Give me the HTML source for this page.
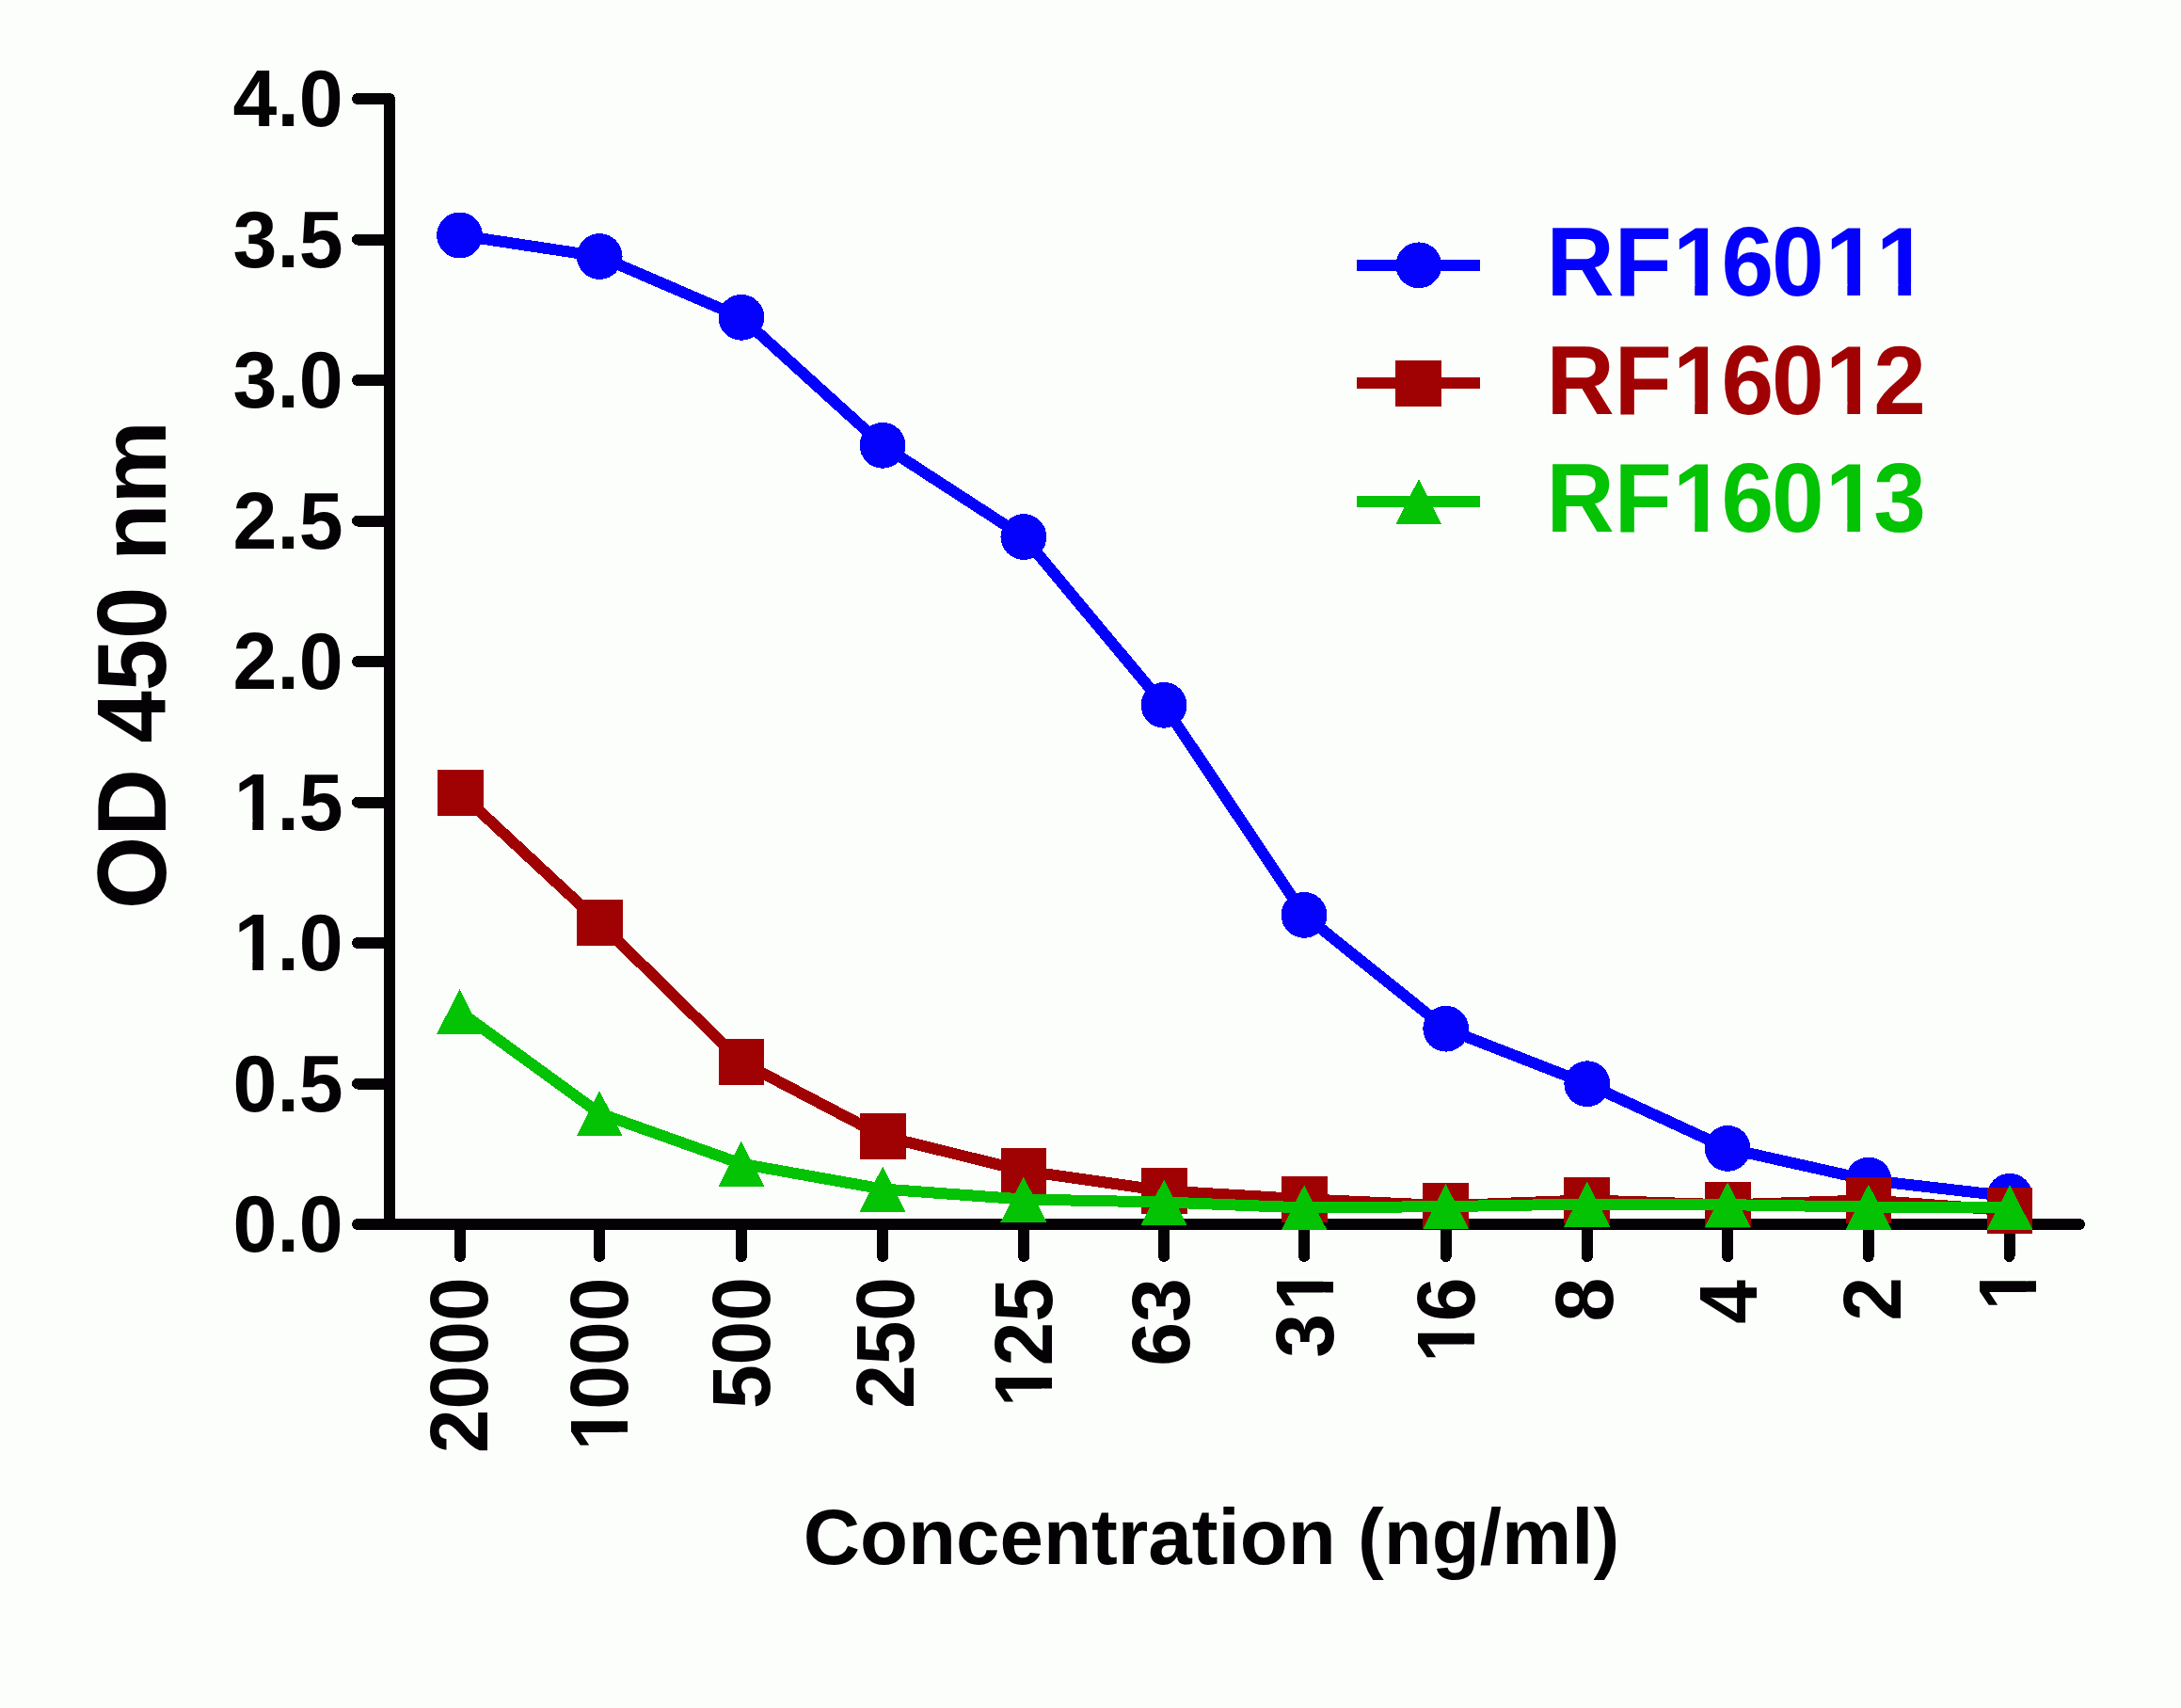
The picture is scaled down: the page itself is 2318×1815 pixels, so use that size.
<!DOCTYPE html>
<html lang="en"><head><meta charset="utf-8"><title>OD 450 nm vs Concentration (ng/ml)</title>
<style>
html,body{margin:0;padding:0;background:#fcfefc;}
body{width:2318px;height:1815px;overflow:hidden;}
svg{display:block;}
text{font-family:"Liberation Sans",Arial,Helvetica,sans-serif;font-weight:bold;}
.tick text{font-size:84.3px;fill:#040204;}
.xl text{font-size:84px;fill:#040204;}
.xt{font-size:83.5px;fill:#040204;}
.yt{font-size:99.3px;fill:#040204;}
.lg{font-size:100px;}
</style></head><body>
<svg width="2318" height="1815" viewBox="0 0 2318 1815">
<defs>
<clipPath id="c1" clipPathUnits="userSpaceOnUse"><rect x="-4000" y="-4000" width="8000" height="3989.90"/><rect x="-4000" y="3.00" width="8000" height="4000"/><rect x="-4000.00" y="-10.60" width="3888.13" height="14.10"/><rect x="-96.31" y="-10.60" width="11.57" height="14.10"/><rect x="-70.30" y="-10.60" width="4070.30" height="14.10"/></clipPath>
<clipPath id="c2" clipPathUnits="userSpaceOnUse"><rect x="-4000" y="-4000" width="8000" height="3989.90"/><rect x="-4000" y="3.00" width="8000" height="4000"/><rect x="-4000.00" y="-10.60" width="3888.13" height="14.10"/><rect x="-96.31" y="-10.60" width="11.57" height="14.10"/><rect x="-70.30" y="-10.60" width="4070.30" height="14.10"/></clipPath>
<clipPath id="c3" clipPathUnits="userSpaceOnUse"><rect x="-4000" y="-4000" width="8000" height="3989.93"/><rect x="-4000" y="3.00" width="8000" height="4000"/><rect x="-4000.00" y="-10.57" width="2462.68" height="14.07"/><rect x="-1521.81" y="-10.57" width="11.53" height="14.07"/><rect x="-1495.89" y="-10.57" width="5495.89" height="14.07"/></clipPath>
<clipPath id="c4" clipPathUnits="userSpaceOnUse"><rect x="-4000" y="-4000" width="8000" height="3989.93"/><rect x="-4000" y="3.00" width="8000" height="4000"/><rect x="-4000.00" y="-10.57" width="2508.89" height="14.07"/><rect x="-1475.60" y="-10.57" width="11.53" height="14.07"/><rect x="-1449.68" y="-10.57" width="5449.68" height="14.07"/></clipPath>
<clipPath id="c5" clipPathUnits="userSpaceOnUse"><rect x="-4000" y="-4000" width="8000" height="3989.93"/><rect x="-4000" y="3.00" width="8000" height="4000"/><rect x="-4000.00" y="-10.57" width="2610.98" height="14.07"/><rect x="-1373.51" y="-10.57" width="11.53" height="14.07"/><rect x="-1347.59" y="-10.57" width="5347.59" height="14.07"/></clipPath>
<clipPath id="c6" clipPathUnits="userSpaceOnUse"><rect x="-4000" y="-4000" width="8000" height="3989.93"/><rect x="-4000" y="3.00" width="8000" height="4000"/><rect x="-4000.00" y="-10.57" width="2556.11" height="14.07"/><rect x="-1428.39" y="-10.57" width="11.53" height="14.07"/><rect x="-1402.47" y="-10.57" width="5402.47" height="14.07"/></clipPath>
<clipPath id="c7" clipPathUnits="userSpaceOnUse"><rect x="-4000" y="-4000" width="8000" height="3989.93"/><rect x="-4000" y="3.00" width="8000" height="4000"/><rect x="-4000.00" y="-10.57" width="2611.68" height="14.07"/><rect x="-1372.81" y="-10.57" width="11.53" height="14.07"/><rect x="-1346.89" y="-10.57" width="5346.89" height="14.07"/></clipPath>
<clipPath id="c8" clipPathUnits="userSpaceOnUse"><rect x="-4000" y="-4000" width="8000" height="3988.29"/><rect x="-4000" y="3.00" width="8000" height="4000"/><rect x="-4000.00" y="-12.21" width="5782.78" height="15.71"/><rect x="1801.24" y="-12.21" width="13.72" height="15.71"/><rect x="1832.10" y="-12.21" width="112.78" height="15.71"/><rect x="1963.34" y="-12.21" width="13.72" height="15.71"/><rect x="1994.20" y="-12.21" width="4.68" height="15.71"/><rect x="2017.34" y="-12.21" width="13.72" height="15.71"/><rect x="2048.20" y="-12.21" width="1951.80" height="15.71"/></clipPath>
<clipPath id="c9" clipPathUnits="userSpaceOnUse"><rect x="-4000" y="-4000" width="8000" height="3988.29"/><rect x="-4000" y="3.00" width="8000" height="4000"/><rect x="-4000.00" y="-12.21" width="5782.78" height="15.71"/><rect x="1801.24" y="-12.21" width="13.72" height="15.71"/><rect x="1832.10" y="-12.21" width="112.78" height="15.71"/><rect x="1963.34" y="-12.21" width="13.72" height="15.71"/><rect x="1994.20" y="-12.21" width="2005.80" height="15.71"/></clipPath>
<clipPath id="c10" clipPathUnits="userSpaceOnUse"><rect x="-4000" y="-4000" width="8000" height="3988.29"/><rect x="-4000" y="3.00" width="8000" height="4000"/><rect x="-4000.00" y="-12.21" width="5782.78" height="15.71"/><rect x="1801.24" y="-12.21" width="13.72" height="15.71"/><rect x="1832.10" y="-12.21" width="112.78" height="15.71"/><rect x="1963.34" y="-12.21" width="13.72" height="15.71"/><rect x="1994.20" y="-12.21" width="2005.80" height="15.71"/></clipPath>
</defs>
<rect x="0" y="0" width="2318" height="1815" fill="#fcfefc"/>
<g fill="none" stroke="#040204" stroke-width="12" stroke-linecap="round" stroke-linejoin="round" shape-rendering="crispEdges">
<path d="M380 105 H414 V1301"/>
<path d="M380 1301 H2210"/>
<path d="M380 1151.50 H414"/>
<path d="M380 1002.00 H414"/>
<path d="M380 852.50 H414"/>
<path d="M380 703.00 H414"/>
<path d="M380 553.50 H414"/>
<path d="M380 404.00 H414"/>
<path d="M380 254.50 H414"/>
<path d="M489.00 1301 V1335"/>
<path d="M637.10 1301 V1335"/>
<path d="M787.90 1301 V1335"/>
<path d="M938.10 1301 V1335"/>
<path d="M1088.10 1301 V1335"/>
<path d="M1237.10 1301 V1335"/>
<path d="M1386.10 1301 V1335"/>
<path d="M1536.70 1301 V1335"/>
<path d="M1686.90 1301 V1335"/>
<path d="M1836.20 1301 V1335"/>
<path d="M1985.80 1301 V1335"/>
<path d="M2135.60 1301 V1335"/>
</g>
<g class="tick">
<text transform="translate(364.7 1330.20) scale(1 1.018)" x="-117.19 -70.30 -46.88" y="0">0.0</text>
<text transform="translate(364.7 1180.70) scale(1 1.018)" x="-117.19 -70.30 -46.88" y="0">0.5</text>
<text transform="translate(364.7 1031.20) scale(1 1.018)" clip-path="url(#c1)" x="-115.99 -70.30 -46.88" y="0">1.0</text>
<text transform="translate(364.7 881.70) scale(1 1.018)" clip-path="url(#c2)" x="-115.99 -70.30 -46.88" y="0">1.5</text>
<text transform="translate(364.7 732.20) scale(1 1.018)" x="-117.19 -70.30 -46.88" y="0">2.0</text>
<text transform="translate(364.7 582.70) scale(1 1.018)" x="-117.19 -70.30 -46.88" y="0">2.5</text>
<text transform="translate(364.7 433.20) scale(1 1.018)" x="-117.19 -70.30 -46.88" y="0">3.0</text>
<text transform="translate(364.7 283.70) scale(1 1.018)" x="-117.19 -70.30 -46.88" y="0">3.5</text>
<text transform="translate(364.7 134.20) scale(1 1.018)" x="-117.19 -70.30 -46.88" y="0">4.0</text>
</g>
<g class="xl">
<text transform="translate(517.80 0) rotate(-90) scale(1 1.04)" x="-1544.22 -1497.50 -1450.78 -1404.07" y="0">2000</text>
<text transform="translate(667.40 0) rotate(-90) scale(1 1.04)" clip-path="url(#c3)" x="-1541.42 -1497.70 -1450.98 -1404.27" y="0">1000</text>
<text transform="translate(817.80 0) rotate(-90) scale(1 1.04)" x="-1497.10 -1450.38 -1403.67" y="0">500</text>
<text transform="translate(970.90 0) rotate(-90) scale(1 1.04)" x="-1497.10 -1450.38 -1403.67" y="0">250</text>
<text transform="translate(1117.70 0) rotate(-90) scale(1 1.04)" clip-path="url(#c4)" x="-1495.21 -1451.49 -1404.78" y="0">125</text>
<text transform="translate(1264.00 0) rotate(-90) scale(1 1.04)" x="-1451.69 -1404.98" y="0">63</text>
<text transform="translate(1416.80 0) rotate(-90) scale(1 1.04)" clip-path="url(#c5)" x="-1442.83 -1393.12" y="0">31</text>
<text transform="translate(1566.70 0) rotate(-90) scale(1 1.04)" clip-path="url(#c6)" x="-1447.99 -1404.28" y="0">16</text>
<text transform="translate(1714.10 0) rotate(-90) scale(1 1.04)" x="-1404.54" y="0">8</text>
<text transform="translate(1867.00 0) rotate(-90) scale(1 1.04)" x="-1406.87" y="0">4</text>
<text transform="translate(2019.80 0) rotate(-90) scale(1 1.04)" x="-1403.76" y="0">2</text>
<text transform="translate(2163.90 0) rotate(-90) scale(1 1.04)" clip-path="url(#c7)" x="-1392.42" y="0">1</text>
</g>
<text class="yt" transform="translate(176 965.9) rotate(-90) scale(1 1.053)">OD 450</text>
<text class="yt" transform="translate(176 596.1) rotate(-90) scale(1 0.987)">nm</text>
<text class="xt" text-anchor="middle" x="1287.5" y="1662.2">Concentration (ng/ml)</text>
<g fill="#0402fc" stroke="none" shape-rendering="crispEdges">
<polyline points="488.50,250.00 637.20,272.50 787.90,337.30 938.10,473.30 1087.90,570.50 1237.10,749.30 1386.10,972.40 1536.70,1093.20 1686.80,1151.70 1836.20,1220.40 1986.00,1254.00 2136.00,1271.30" fill="none" stroke="#0402fc" stroke-width="12" stroke-linejoin="round"/>
<circle cx="488.50" cy="250.00" r="24.4"/>
<circle cx="637.20" cy="272.50" r="24.4"/>
<circle cx="787.90" cy="337.30" r="24.4"/>
<circle cx="938.10" cy="473.30" r="24.4"/>
<circle cx="1087.90" cy="570.50" r="24.4"/>
<circle cx="1237.10" cy="749.30" r="24.4"/>
<circle cx="1386.10" cy="972.40" r="24.4"/>
<circle cx="1536.70" cy="1093.20" r="24.4"/>
<circle cx="1686.80" cy="1151.70" r="24.4"/>
<circle cx="1836.20" cy="1220.40" r="24.4"/>
<circle cx="1986.00" cy="1254.00" r="24.4"/>
<circle cx="2136.00" cy="1271.30" r="24.4"/>
</g>
<g fill="#a00204" stroke="none" shape-rendering="crispEdges">
<polyline points="488.50,842.20 637.20,980.50 787.90,1128.50 938.10,1207.20 1087.90,1244.10 1237.10,1265.40 1386.10,1274.30 1536.70,1281.20 1686.80,1275.40 1836.20,1280.40 1986.00,1275.40 2136.00,1286.30" fill="none" stroke="#a00204" stroke-width="12" stroke-linejoin="round"/>
<rect x="465.00" y="817.80" width="48.8" height="48.8"/>
<rect x="612.80" y="956.10" width="48.8" height="48.8"/>
<rect x="763.50" y="1104.10" width="48.8" height="48.8"/>
<rect x="913.70" y="1182.80" width="48.8" height="48.8"/>
<rect x="1063.50" y="1219.70" width="48.8" height="48.8"/>
<rect x="1212.70" y="1241.00" width="48.8" height="48.8"/>
<rect x="1361.70" y="1249.90" width="48.8" height="48.8"/>
<rect x="1512.30" y="1256.80" width="48.8" height="48.8"/>
<rect x="1662.40" y="1251.00" width="48.8" height="48.8"/>
<rect x="1811.80" y="1256.00" width="48.8" height="48.8"/>
<rect x="1961.60" y="1251.00" width="48.8" height="48.8"/>
<rect x="2111.60" y="1261.90" width="48.8" height="48.8"/>
</g>
<g fill="#04c204" stroke="none" shape-rendering="crispEdges">
<polyline points="488.50,1075.00 637.20,1183.10 787.90,1236.70 938.10,1263.50 1087.90,1274.50 1237.10,1277.50 1386.10,1283.40 1536.70,1282.10 1686.80,1279.50 1836.20,1280.20 1986.00,1282.60 2136.00,1283.00" fill="none" stroke="#04c204" stroke-width="12" stroke-linejoin="round"/>
<polygon points="488.50,1051.00 512.90,1099.00 464.10,1099.00"/>
<polygon points="637.20,1159.10 661.60,1207.10 612.80,1207.10"/>
<polygon points="787.90,1212.70 812.30,1260.70 763.50,1260.70"/>
<polygon points="938.10,1239.50 962.50,1287.50 913.70,1287.50"/>
<polygon points="1087.90,1250.50 1112.30,1298.50 1063.50,1298.50"/>
<polygon points="1237.10,1253.50 1261.50,1301.50 1212.70,1301.50"/>
<polygon points="1386.10,1259.40 1410.50,1307.40 1361.70,1307.40"/>
<polygon points="1536.70,1258.10 1561.10,1306.10 1512.30,1306.10"/>
<polygon points="1686.80,1255.50 1711.20,1303.50 1662.40,1303.50"/>
<polygon points="1836.20,1256.20 1860.60,1304.20 1811.80,1304.20"/>
<polygon points="1986.00,1258.60 2010.40,1306.60 1961.60,1306.60"/>
<polygon points="2136.00,1259.00 2160.40,1307.00 2111.60,1307.00"/>
</g>
<g fill="#0402fc">
<g shape-rendering="crispEdges">
<rect x="1442" y="275.80" width="131" height="12"/>
<circle cx="1507.8" cy="281.80" r="24.4"/>
</g>
<text class="lg" transform="translate(0 313.90) scale(1 1.042)" clip-path="url(#c8)" x="1643.60 1715.70 1777.90 1829.50 1883.10 1940.00 1994.00" y="0">RF16011</text>
</g>
<g fill="#a00204">
<g shape-rendering="crispEdges">
<rect x="1442" y="401.40" width="131" height="12"/>
<rect x="1483.40" y="383.00" width="48.8" height="48.8"/>
</g>
<text class="lg" transform="translate(0 439.70) scale(1 1.042)" clip-path="url(#c9)" x="1643.60 1715.70 1777.90 1829.50 1883.10 1940.00 1991.20" y="0">RF16012</text>
</g>
<g fill="#04c204">
<g shape-rendering="crispEdges">
<rect x="1442" y="527.10" width="131" height="12"/>
<polygon points="1507.80,509.10 1532.20,557.10 1483.40,557.10"/>
</g>
<text class="lg" transform="translate(0 565.20) scale(1 1.042)" clip-path="url(#c10)" x="1643.60 1715.70 1777.90 1829.50 1883.10 1940.00 1991.20" y="0">RF16013</text>
</g>
</svg>
</body></html>
